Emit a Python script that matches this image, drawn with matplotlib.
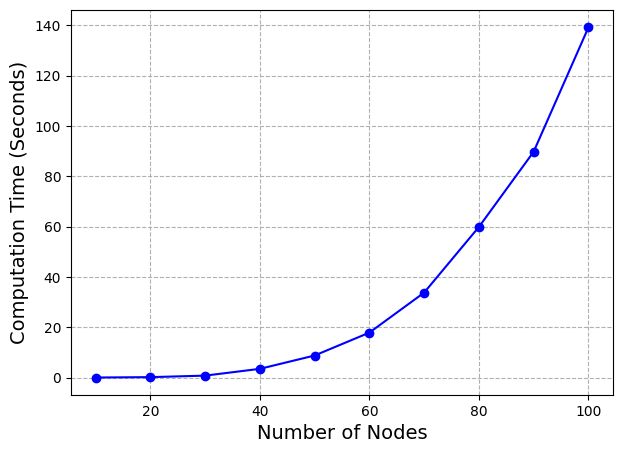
import matplotlib
matplotlib.use('Agg')
import matplotlib.pyplot as plt

nodes = [10, 20, 30, 40, 50, 60, 70, 80, 90, 100]
times = [0.05, 0.2, 0.8, 3.5, 8.8, 17.9, 33.8, 59.9, 89.8, 139.2]

fig, ax = plt.subplots(figsize=(6.23, 4.53), dpi=100)
ax.plot(nodes, times, marker='o', color='blue')
ax.set_xlabel('Number of Nodes', fontsize=14)
ax.set_ylabel('Computation Time (Seconds)', fontsize=14)
ax.grid(True, linestyle='--', color='#b0b0b0')
plt.subplots_adjust(left=0.114, right=0.984, top=0.978, bottom=0.128)
plt.savefig('out.png')
